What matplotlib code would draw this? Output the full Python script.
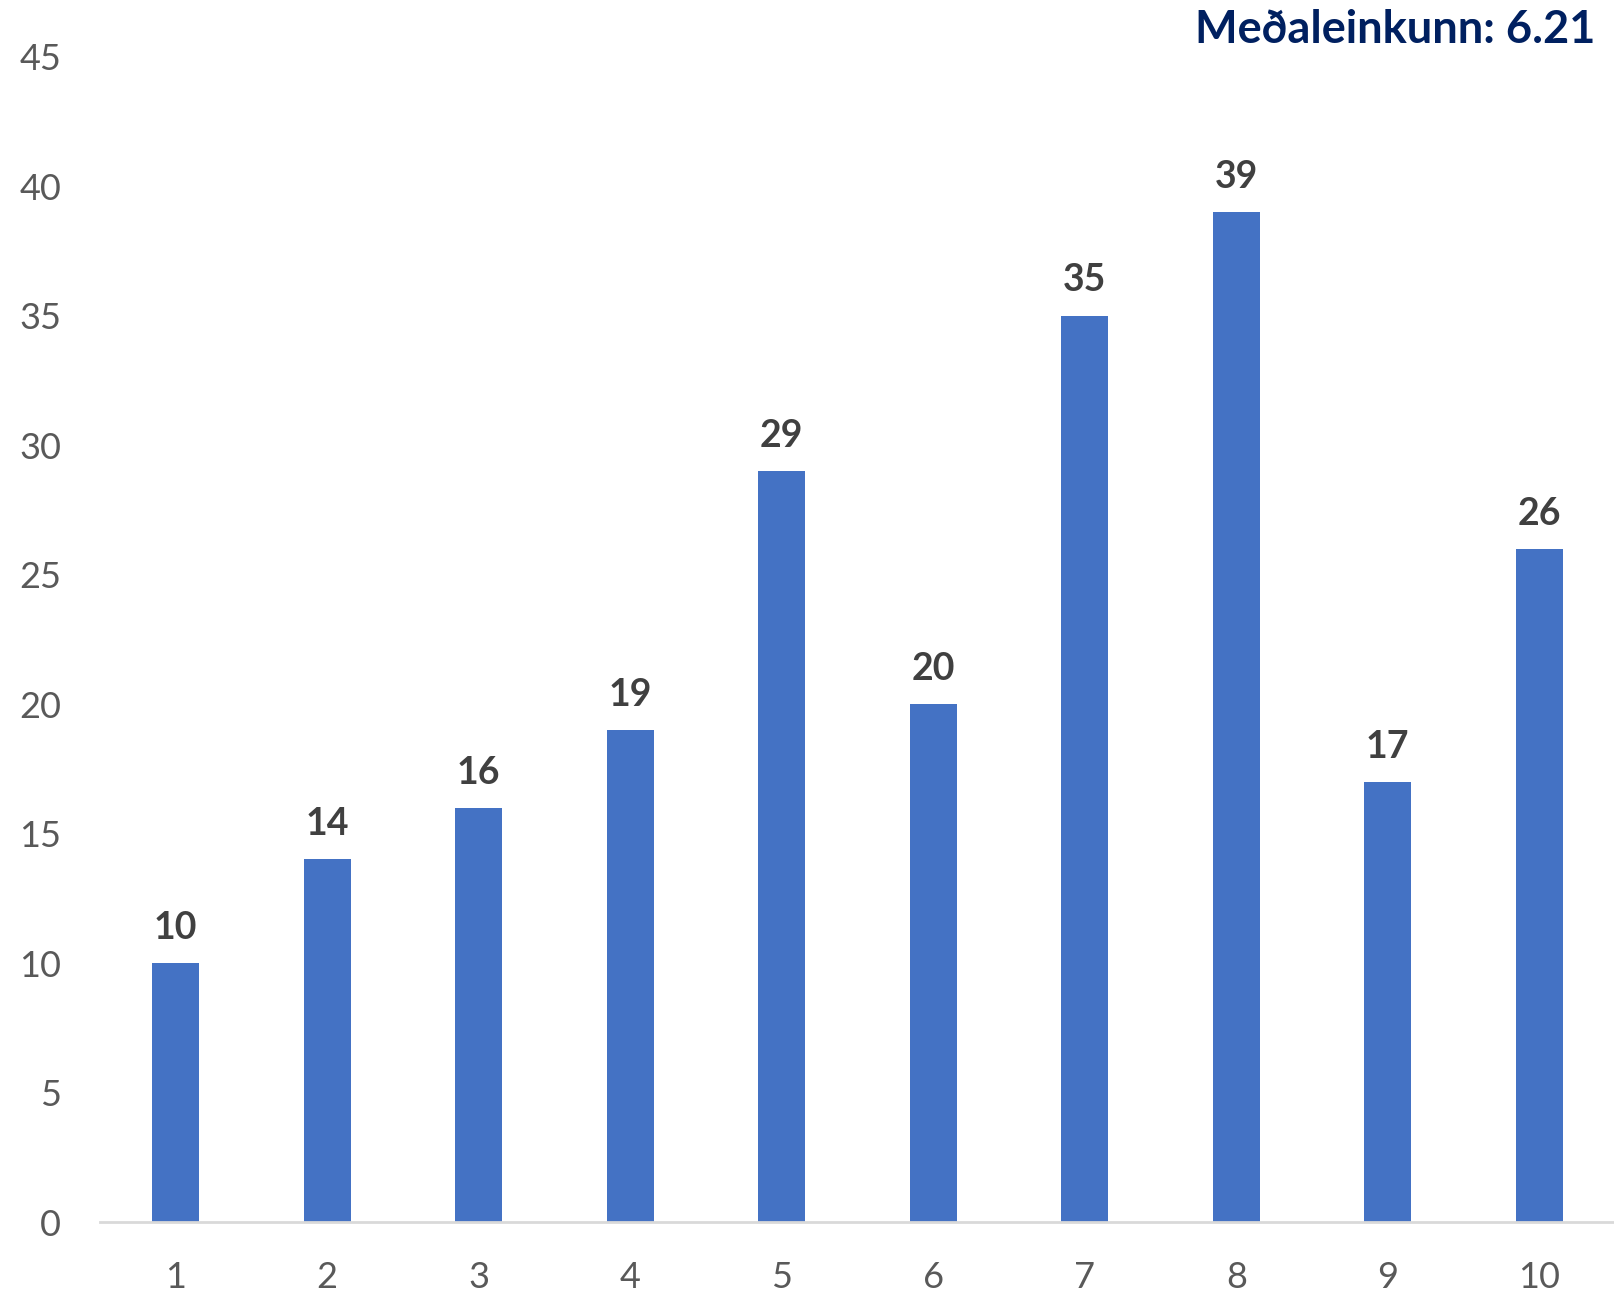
"""Bar chart of grade distribution with average grade"""
import matplotlib
matplotlib.use("Agg")
import matplotlib.pyplot as plt

grades = ["1", "2", "3", "4", "5", "6", "7", "8", "9", "10"]
counts = [10, 14, 16, 19, 29, 20, 35, 39, 17, 26]
average_label = "Meðaleinkunn: 6.21"
y_ticks = [0, 5, 10, 15, 20, 25, 30, 35, 40, 45]

plt.rcParams['font.family'] = ['Lato', 'DejaVu Sans']

fig = plt.figure(figsize=(16.15, 12.97), dpi=100)
ax = fig.add_axes([0.0619, 0.0578, 0.9381, 0.8986])

x = range(len(grades))
bars = ax.bar(x, counts, width=0.31, color="#4472C4")

for pos, val in zip(x, counts):
    ax.annotate(str(val), (pos, val), xytext=(0, 13), textcoords="offset points",
                ha="center", va="bottom", fontsize=27, fontweight="bold",
                color="#404040")

ax.set_xlim(-0.5, len(grades) - 0.5)
ax.set_ylim(0, 45)
ax.set_xticks(list(x))
ax.set_xticklabels(grades)
ax.set_yticks(y_ticks)
ax.tick_params(axis="both", length=0, labelsize=26, colors="#595959")
ax.tick_params(axis="x", pad=28)
ax.tick_params(axis="y", pad=28)

for side in ["top", "right", "left"]:
    ax.spines[side].set_visible(False)
ax.spines["bottom"].set_color("#D9D9D9")
ax.spines["bottom"].set_linewidth(2)

fig.text(0.988, 0.993, average_label, ha="right", va="top", fontsize=32.5,
         fontweight="bold", color="#002060")

plt.savefig("out.png", dpi=100)
